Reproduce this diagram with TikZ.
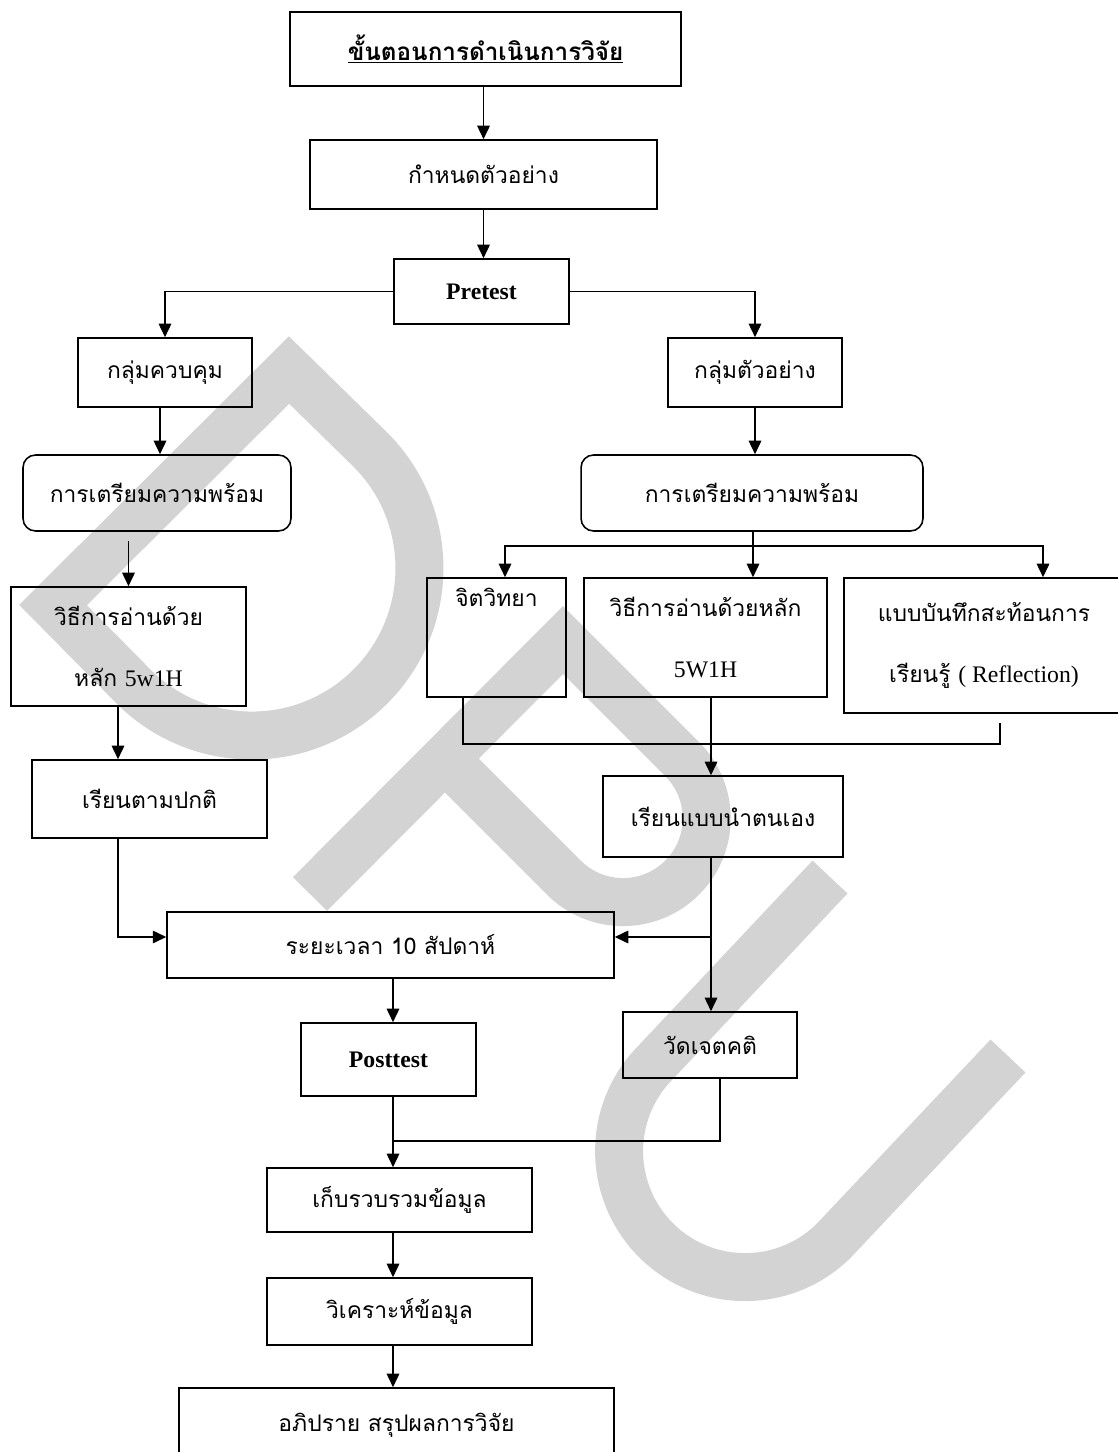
\documentclass[tikz,border=0pt]{standalone}
\usepackage{fontspec}
\setmainfont{Liberation Serif}
\newfontfamily\thai[Script=Thai]{Loma}
\usetikzlibrary{arrows.meta}
\definecolor{wmgray}{RGB}{211,211,211}
\newcommand\lat[1]{{\rmfamily\fontsize{13.5}{16}\selectfont #1}}
\begin{document}
\begin{tikzpicture}[x=0.02cm,y=-0.02cm,line width=0.9pt,
	box/.style={draw,inner sep=0pt,align=center,font=\thai\fontsize{13}{35}\selectfont},
	rbox/.style={box,rounded corners=0.25cm},
	arr/.style={-{Triangle[length=0.27cm,width=0.25cm]}},
	wm/.style={draw=wmgray,line width=0.96cm}]
		\useasboundingbox (0,0) rectangle (1117,1452);
		\draw[wm] (289,370)--(53,605)--(133.5,686.5) arc[start angle=135,end angle=-45,radius=167.5]--cycle;
		\draw[wm] (310,894)--(563,640)--(682.2,759.2) arc[start angle=-45,end angle=135,radius=83.7]--(444.6,758.4);
		\draw[wm] (830,877)--(656,1062) arc[start angle=225,end angle=45,radius=126]--(1008,1056);
		\node[box,minimum width=7.82cm,minimum height=1.48cm] (title) at (485.5,49) {\fontsize{13.8}{35}\selectfont\underline{\bfseries ขั้นตอนการดำเนินการวิจัย}};
		\node[box,minimum width=6.94cm,minimum height=1.38cm] (sample) at (483.5,174.5) {กำหนดตัวอย่าง};
		\node[box,minimum width=3.5cm,minimum height=1.3cm] (pre) at (481.5,291.5) {\lat{\bfseries Pretest}};
		\node[box,minimum width=3.48cm,minimum height=1.38cm] (ctrl) at (165,372.5) {กลุ่มควบคุม};
		\node[box,minimum width=3.48cm,minimum height=1.38cm] (expt) at (755,372.5) {กลุ่มตัวอย่าง};
		\node[rbox,minimum width=5.36cm,minimum height=1.52cm] (prepL) at (157,493) {การเตรียมความพร้อม};
		\node[rbox,minimum width=6.84cm,minimum height=1.52cm] (prepR) at (752,493) {การเตรียมความพร้อม};
		\node[box,minimum width=4.7cm,minimum height=2.38cm] (readL) at (128.5,646.5) {วิธีการอ่านด้วย\\หลัก \lat{5w1H}};
		\node[box,minimum width=2.78cm,minimum height=2.38cm] (psy) at (496.5,637.5) {จิตวิทยา\\\strut};
		\node[box,minimum width=4.86cm,minimum height=2.38cm] (readR) at (705.5,637.5) {วิธีการอ่านด้วยหลัก\\\lat{5W1H}};
		\node[box,minimum width=5.6cm,minimum height=2.7cm] (refl) at (984,645.5) {แบบบันทึกสะท้อนการ\\เรียนรู้ \lat{( Reflection)}};
		\node[box,minimum width=4.7cm,minimum height=1.56cm] (normal) at (149.5,799) {เรียนตามปกติ};
		\node[box,minimum width=4.8cm,minimum height=1.62cm] (self) at (723,816.5) {เรียนแบบนำตนเอง};
		\node[box,minimum width=8.94cm,minimum height=1.32cm] (period) at (390.5,945) {ระยะเวลา 10 สัปดาห์};
		\node[box,minimum width=3.5cm,minimum height=1.46cm] (post) at (388.5,1059.5) {\lat{\bfseries Posttest}};
		\node[box,minimum width=3.48cm,minimum height=1.32cm] (attit) at (710,1045) {วัดเจตคติ};
		\node[box,minimum width=5.3cm,minimum height=1.28cm] (collect) at (399.5,1200) {เก็บรวบรวมข้อมูล};
		\node[box,minimum width=5.3cm,minimum height=1.34cm] (anal) at (399.5,1311.5) {วิเคราะห์ข้อมูล};
		\node[box,minimum width=8.7cm,minimum height=1.48cm] (disc) at (396.5,1425) {อภิปราย สรุปผลการวิจัย};
		\coordinate (jL) at (118,937);
		\coordinate (sL) at (505,546);
		\coordinate (sR) at (753,546);
		\coordinate (sE) at (1043,546);
		\coordinate (jP) at (463,744);
		\coordinate (jF) at (1000,744);
		\coordinate (jR) at (711,744);
		\coordinate (jB) at (711,937);
		\coordinate (jA) at (720,1141);
		\coordinate (jC) at (393,1141);
		\draw[arr] (title.south -| sample.north)--(sample.north);
		\draw[arr] (sample.south)--(sample.south |- pre.north);
		\draw[arr] (pre.west) -| (ctrl.north);
		\draw[arr] (pre.east) -| (expt.north);
		\draw[arr] ([xshift=-0.1cm]ctrl.south)--([xshift=-0.1cm]ctrl.south |- prepL.north);
		\draw[arr] ([yshift=-0.18cm]prepL.south -| readL.north)--(readL.north);
		\draw[arr] ([xshift=-0.21cm]readL.south)--([xshift=-0.21cm]readL.south |- normal.north);
		\draw[arr] (normal.south -| jL)--(jL)--(jL -| period.west);
		\draw[arr] (expt.south)--(expt.south |- prepR.north);
		\draw (prepR.south -| sR)--(sR);
		\draw[arr] (sR)--(sR |- readR.north);
		\draw[arr] (sR)--(sL)--(sL |- psy.north);
		\draw[arr] (sR)--(sE)--(sE |- refl.north);
		\draw (psy.south -| jP)--(jP)--(jF)--([yshift=-0.18cm]refl.south -| jF);
		\draw[arr] (readR.south -| jR)--(jR |- self.north);
		\draw[arr] (self.south -| jR)--(jR |- attit.north);
		\draw[arr] (jB)--(jB -| period.east);
		\draw[arr] (period.south -| jC)--(jC |- post.north);
		\draw (attit.south -| jA)--(jA)--(jC);
		\draw[arr] (post.south -| jC)--(jC |- collect.north);
		\draw[arr] (collect.south -| jC)--(jC |- anal.north);
		\draw[arr] (anal.south -| jC)--(jC |- disc.north);
		\end{tikzpicture}
\end{document}
